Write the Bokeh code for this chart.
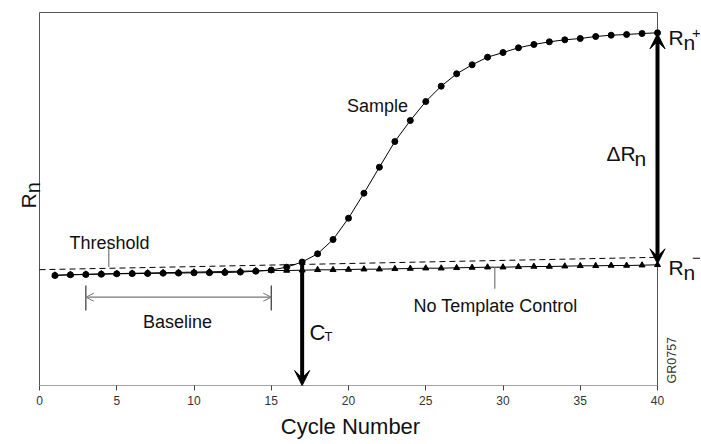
from bokeh.plotting import figure
from bokeh.models import (Range1d, Label, Arrow, VeeHead, OpenHead, FixedTicker)
from bokeh.embed import file_html
from bokeh.resources import INLINE
import math

# ---------------- data ----------------
cycles = list(range(1, 41))
sample = [110.0, 110.7, 111.0, 111.3, 111.7, 111.9, 112.0, 112.3, 112.4, 112.7,
          112.8, 113.0, 113.4, 114.3, 115.5, 118.3, 123.5, 131.7, 146.0, 167.3,
          192.3, 218.3, 244.0, 265.0, 284.0, 299.3, 311.7, 320.7, 328.3, 333.0,
          337.7, 341.0, 343.7, 345.7, 347.0, 349.0, 350.3, 351.0, 352.0, 352.7]
ntc = [110.3, 110.8, 111.2, 111.6, 111.9, 112.2, 112.5, 112.8, 113.1, 113.4,
       113.7, 114.0, 114.3, 114.6, 115.0, 115.0, 115.3, 115.7, 115.7, 116.0,
       116.3, 116.3, 116.7, 117.0, 117.3, 117.3, 117.7, 118.0, 118.3, 118.3,
       118.7, 119.0, 119.0, 119.3, 119.7, 119.7, 120.0, 120.0, 120.3, 120.7]
threshold_x = [0, 40]
threshold_y = [115.8, 128.2]
ct_cycle = 17
baseline_start, baseline_end = 3, 15
x_ticks = [0, 5, 10, 15, 20, 25, 30, 35, 40]
x_min, x_max = 0, 40
y_min, y_max = 0, 373

# ---------------- layout (picture pixel -> data) ----------------
W, H = 700, 443
BOX_L, BOX_R, BOX_T, BOX_B = 39, 657, 12, 385   # plot box in picture px
PX = (x_max - x_min) / (BOX_R - BOX_L)
PY = (y_max - y_min) / (BOX_B - BOX_T)
def X(px):
    return x_min + (px - BOX_L) * PX
def Y(py):
    return y_min + (BOX_B - py) * PY

FONT = "Liberation Sans"

p = figure(width=W, height=H, output_backend="svg", toolbar_location=None,
           x_range=Range1d(X(0), X(W)), y_range=Range1d(y_min, Y(0)),
           min_border=0, min_border_bottom=H - BOX_B)
p.xgrid.visible = False
p.ygrid.visible = False
p.yaxis.visible = False
p.outline_line_color = None
p.background_fill_color = "white"
p.border_fill_color = "white"

ax = p.xaxis[0]
ax.ticker = FixedTicker(ticks=x_ticks)
ax.axis_line_color = None
ax.major_tick_line_color = "#444444"
ax.major_tick_in = 0
ax.major_tick_out = 5
ax.minor_tick_line_color = None
ax.major_label_text_font = FONT
ax.major_label_text_font_size = "12px"
ax.major_label_text_color = "#333333"
ax.major_label_standoff = 5
ax.axis_label = "Cycle Number"
ax.axis_label_text_font = FONT
ax.axis_label_text_font_size = "22px"
ax.axis_label_text_font_style = "normal"
ax.axis_label_text_color = "#111111"
ax.axis_label_standoff = 6

# plot box (left, top, right border and x axis line)
box = "#555555"
p.segment(x0=[x_min, x_min, x_max], y0=[y_min, y_max, y_max],
          x1=[x_min, x_max, x_max], y1=[y_max, y_max, y_min],
          line_color=box, line_width=1)
p.segment(x0=[x_min], y0=[y_min], x1=[x_max], y1=[y_min], line_color="#444444", line_width=1.2)

# threshold
p.line(threshold_x, threshold_y, line_color="black", line_width=1, line_dash="6 4")

# no template control
p.line(cycles, ntc, line_color="black", line_width=1)
p.scatter(cycles, ntc, marker="triangle", size=6, fill_color="black", line_color="black")

# sample
p.line(cycles, sample, line_color="black", line_width=1)
p.scatter(cycles, sample, marker="circle", size=6, fill_color="black", line_color="black")

# CT arrow
p.add_layout(Arrow(end=VeeHead(size=15, fill_color="black", line_color="black"),
                   x_start=ct_cycle, y_start=sample[ct_cycle - 1], x_end=ct_cycle, y_end=y_min,
                   line_width=4, line_color="black"))
# delta Rn arrow
p.add_layout(Arrow(start=VeeHead(size=15, fill_color="black", line_color="black"),
                   end=VeeHead(size=15, fill_color="black", line_color="black"),
                   x_start=x_max, y_start=sample[-1] - 1, x_end=x_max, y_end=ntc[-1] + 1,
                   line_width=4, line_color="black"))

# baseline bracket
gray = "#777777"
p.segment(x0=[baseline_start, baseline_end], y0=[Y(310), Y(310)],
          x1=[baseline_start, baseline_end], y1=[Y(285), Y(285)],
          line_color="#333333", line_width=1.2)
p.add_layout(Arrow(start=OpenHead(size=8, line_color=gray, line_width=1),
                   end=OpenHead(size=8, line_color=gray, line_width=1),
                   x_start=baseline_start, y_start=Y(296.7), x_end=baseline_end, y_end=Y(296.7),
                   line_color=gray, line_width=1.2))

# leader lines
p.segment(x0=[X(108.3), X(494.3)], y0=[Y(243.5), Y(288.3)],
          x1=[X(108.3), X(494.3)], y1=[Y(266.5), Y(267)],
          line_color=gray, line_width=1.2)

def lab(txt, px, py, size, align="left", angle=0, color="#111111"):
    p.add_layout(Label(x=X(px), y=Y(py), text=txt, text_font=FONT,
                       text_font_size=f"{size}px", text_align=align,
                       text_baseline="alphabetic", angle=angle, text_color=color))

lab("Threshold", 69, 242, 18)
lab("Sample", 377, 105, 18, align="center")
lab("Baseline", 177, 321.5, 18, align="center")
lab("No Template Control", 413, 305, 18)
lab("C", 309, 332, 22)
lab("T", 324, 336, 13)
lab("\u0394R", 606, 153, 21)
lab("n", 634, 157.5, 21)
lab("R", 668, 37, 21)
lab("n", 683, 42, 21)
lab("+", 691.5, 32, 15)
lab("R", 668, 267, 21)
lab("n", 683, 272, 21)
lab("\u2212", 691.5, 257, 15)
lab("GR0757", 671, 383, 12.5, angle=math.pi / 2, color="#333333")
lab("R", 28, 208, 21, angle=math.pi / 2)
lab("n", 32, 192.8, 20, angle=math.pi / 2)

open("out.html", "w").write(file_html(p, INLINE))
